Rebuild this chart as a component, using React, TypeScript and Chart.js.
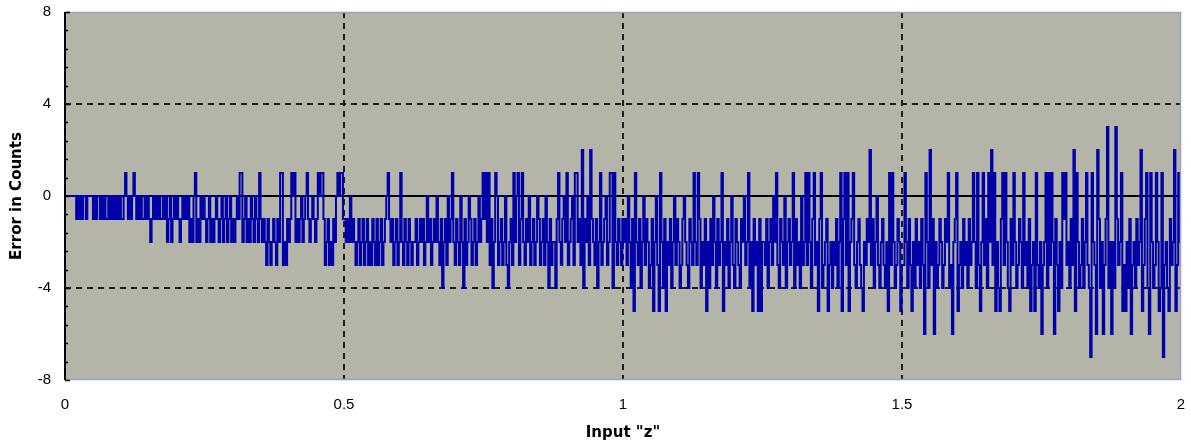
import React, { useEffect, useRef } from 'react';
import { Chart, registerables } from 'chart.js';

Chart.register(...registerables);

// Axis ticks
const xTickValues = [0, 0.5, 1, 1.5, 2];
const yTickValues = [-8, -4, 0, 4, 8];

// Error in counts, four segments of Input "z"
const errZ0to05 = [
  0,0,0,0,0,0,0,0,-1,0,-1,0,-1,0,0,-1,0,0,0,0,-1,0,-1,0,0,-1,0,-1,0,-1,-1,0,-1,0,-1,0,-1,0,-1,0,-1,-1,0,1,0,-1,0,-1,0,1,
  0,-1,0,-1,0,-1,-1,0,-1,0,-1,-2,-1,0,-1,0,-1,0,-1,-1,0,-1,0,-2,-1,0,-2,-1,0,-1,0,-1,-2,-1,0,-1,0,-1,0,-2,-1,-2,0,1,-2,-1,-2,0,-1,0,
  -1,-2,-1,0,-2,-1,-2,-1,0,-1,-2,-1,0,-2,-1,0,-2,-1,0,-2,-1,-2,-1,0,-1,1,1,-2,-1,0,-2,-1,-2,0,-1,-2,0,-1,-2,1,-1,-2,-1,-2,-3,-1,-2,-3,-2,-1,
  -2,-3,-1,-2,1,1,-3,-2,-3,-1,-2,-1,1,0,1,-2,-1,-2,-1,0,-2,-1,0,1,-1,-2,-1,0,-1,-2,-1,1,0,1,1,-1,-3,-2,-1,-3,-2,-3,-1,-2,0,1,0,1,1,-1,
];
const errZ05to1 = [
  -1,-2,-1,-2,0,-2,-1,-2,-3,-2,-1,-3,-2,-1,-3,-2,-1,-3,-2,-3,-1,-2,-3,-1,-3,-2,-1,-3,-2,-1,0,1,-1,-2,-1,-3,-2,-1,-3,-2,1,-2,-3,-1,-2,-3,-1,-2,-3,-2,
  -2,-1,-3,-2,-1,-2,-1,-3,-2,0,-2,-1,-3,-2,-1,-2,0,-2,-3,-1,-4,-2,-1,-3,0,-2,-1,1,-2,-3,-1,-2,-3,0,-2,-4,-1,-3,-2,0,-1,-3,-2,-1,-3,-2,0,-2,-1,1,
  -1,1,-2,1,-3,-1,-4,-2,1,0,-3,-2,-1,-3,-2,0,-3,-4,-2,-1,-3,1,-2,0,1,-3,-1,1,-2,-3,-1,-2,0,-3,-2,-1,-3,-2,0,-1,-3,-2,-1,-3,0,-2,-4,-1,-3,-2,
  -2,-4,-1,1,-2,-3,-1,0,-2,1,-3,-2,-1,0,-3,1,1,-2,-1,-3,2,-4,-1,-2,0,-3,2,-1,-2,-3,-1,-4,-2,1,-3,-2,-1,0,-3,-2,1,1,-4,1,-2,-3,-1,-2,-3,-1,
];
const errZ1to15 = [
  -2,-1,-3,0,-2,-4,-1,-5,1,-2,-3,-1,-4,-2,0,-3,-1,-2,-4,-3,-1,-5,-2,0,-3,-5,1,-2,-4,-1,-5,-2,-3,-1,-4,-2,0,-3,-1,-2,-4,-3,-1,0,-2,-3,-4,-1,-2,-3,
  1,-2,-3,1,-1,-4,-2,-3,-1,-5,-2,-4,-1,-3,0,-2,-4,-1,-3,-2,1,-5,-2,-3,-1,-4,-2,0,-3,-4,-1,-2,-3,-4,-1,-2,0,-3,-2,1,-4,-2,-5,-1,-3,-2,-5,-1,-5,-2,
  -2,-3,-1,-4,-2,-1,-3,0,-2,1,-3,-4,-1,-2,-3,0,-4,-2,-1,-3,-2,1,-4,-1,-3,-2,-4,0,-3,-2,1,-3,1,-2,-4,-1,1,-3,-2,-5,-1,1,-4,-3,-2,-1,-5,-3,-2,-4,
  -2,-3,-1,-4,-2,1,-5,-1,1,-3,1,-5,-2,-1,1,-3,-4,-2,-1,-3,-4,-5,-2,-3,-1,-2,2,-3,-1,-4,-2,0,-3,-4,-2,-1,-3,-4,-2,-5,1,-3,1,-2,-4,-3,-1,-2,-5,-3,
];
const errZ15to2 = [
  -3,1,-2,-4,-1,-3,-5,-2,-4,-1,-3,-2,-4,-1,-3,-6,1,-2,-4,2,-3,-1,-6,-2,-4,-3,-1,-2,-4,-3,-1,-2,1,-4,-3,-6,-2,-1,1,-5,-3,-2,-4,-1,-3,-2,-4,-1,-3,-2,
  1,-2,-4,1,-3,-5,-2,1,-3,-1,-4,1,-2,2,-3,1,-5,-2,-4,-5,-1,1,-3,1,-2,-4,-5,-1,-3,1,-2,-4,-3,-1,-2,-4,1,-3,-2,-4,-1,-5,-3,-2,-5,1,-3,-4,-2,-6,
  -3,-2,1,-4,1,-3,1,-2,-6,-1,-3,-5,-2,-4,1,-1,1,-3,-2,-4,-1,-3,2,-5,1,-2,-4,-3,-1,-4,-2,1,-3,-4,-7,1,-2,-3,-6,2,-1,-4,-2,-6,-3,-1,3,-4,-2,-6,
  -2,-4,3,-1,-3,-2,1,-5,-3,-5,-2,-4,-1,-6,-3,-2,-4,-1,-3,-2,2,-5,-3,-1,1,-4,-6,1,-2,-4,-3,1,-2,-5,-4,1,-7,-3,-2,-4,-5,-1,-3,-2,2,-5,-3,1,-2,-4,
];

const PLOT_BG = '#b4b4a9';
const LINE_BLUE = '#0000a8';
const FRAME = '#a0a0c4';

const decorPlugin = {
  id: 'decor',
  beforeDatasetsDraw(chart: any) {
    const { ctx, chartArea: a, scales } = chart;
    const xs = scales.x;
    const ys = scales.y;
    ctx.save();
    ctx.fillStyle = PLOT_BG;
    ctx.fillRect(a.left, a.top, a.right - a.left, a.bottom - a.top);
    ctx.strokeStyle = '#1e1e1e';
    ctx.lineWidth = 2;
    ctx.setLineDash([6, 5]);
    xTickValues.slice(1, -1).forEach((v) => {
      const px = Math.round(xs.getPixelForValue(v));
      ctx.beginPath();
      ctx.moveTo(px, a.top);
      ctx.lineTo(px, a.bottom);
      ctx.stroke();
    });
    yTickValues.filter((v) => v !== 0 && v !== yTickValues[0] && v !== yTickValues[yTickValues.length - 1]).forEach((v) => {
      const py = Math.round(ys.getPixelForValue(v));
      ctx.beginPath();
      ctx.moveTo(a.left, py);
      ctx.lineTo(a.right, py);
      ctx.stroke();
    });
    ctx.setLineDash([]);
    const zy = Math.round(ys.getPixelForValue(0));
    ctx.strokeStyle = '#000';
    ctx.lineWidth = 2;
    ctx.beginPath();
    ctx.moveTo(a.left, zy);
    ctx.lineTo(a.right, zy);
    ctx.stroke();
    ctx.restore();
  },
  afterDatasetsDraw(chart: any) {
    const { ctx, chartArea: a, scales } = chart;
    const ys = scales.y;
    ctx.save();
    ctx.strokeStyle = FRAME;
    ctx.lineWidth = 1.5;
    ctx.beginPath();
    ctx.moveTo(a.left, a.top + 0.5);
    ctx.lineTo(a.right - 0.5, a.top + 0.5);
    ctx.lineTo(a.right - 0.5, a.bottom - 0.5);
    ctx.lineTo(a.left, a.bottom - 0.5);
    ctx.stroke();
    // left value axis
    ctx.strokeStyle = '#000';
    ctx.lineWidth = 2;
    ctx.beginPath();
    ctx.moveTo(a.left, a.top);
    ctx.lineTo(a.left, a.bottom);
    ctx.stroke();
    // tick marks (major every 4, minor every 0.8), drawn inside
    const lo = yTickValues[0];
    const hi = yTickValues[yTickValues.length - 1];
    const minorStep = (yTickValues[1] - yTickValues[0]) / 5;
    ctx.lineWidth = 1.5;
    for (let k = 0; lo + k * minorStep <= hi + 1e-9; k++) {
      const v = lo + k * minorStep;
      const py = Math.round(ys.getPixelForValue(v)) + 0.5;
      const major = k % 5 === 0;
      ctx.beginPath();
      ctx.moveTo(a.left, py);
      ctx.lineTo(a.left + (major ? 5 : 3), py);
      ctx.stroke();
    }
    ctx.restore();
  },
};

export default function App() {
  const canvasRef = useRef<HTMLCanvasElement | null>(null);

  useEffect(() => {
    const canvas = canvasRef.current;
    if (!canvas) return;
    const values = [...errZ0to05, ...errZ05to1, ...errZ1to15, ...errZ15to2];
    const xMax = xTickValues[xTickValues.length - 1];
    const points = values.map((v, i) => ({ x: (i / (values.length - 1)) * xMax, y: v }));

    const tickFont = { family: '"Liberation Sans", Arial, sans-serif', size: 15 };
    const titleFont = { family: '"DejaVu Sans", sans-serif', size: 15, weight: 'bold' as const };

    const chart = new Chart(canvas, {
      type: 'line',
      data: {
        datasets: [
          {
            data: points,
            borderColor: LINE_BLUE,
            borderWidth: 2,
            stepped: true,
            pointRadius: 0,
            fill: false,
          },
        ],
      },
      options: {
        animation: false,
        responsive: false,
        maintainAspectRatio: false,
        layout: { padding: { left: 0, right: 10, top: 12, bottom: 0 } },
        plugins: { legend: { display: false }, tooltip: { enabled: false } },
        scales: {
          x: {
            type: 'linear',
            min: xTickValues[0],
            max: xMax,
            afterBuildTicks: (s: any) => {
              s.ticks = xTickValues.map((v) => ({ value: v }));
            },
            afterFit: (s: any) => {
              s.height = 66;
              s.paddingLeft = 0;
              s.paddingRight = 0;
            },
            grid: { display: false, drawTicks: false },
            border: { display: false },
            ticks: {
              color: '#000',
              font: tickFont,
              padding: 16,
              maxRotation: 0,
              callback: (v: any) => String(v),
            },
            title: {
              display: true,
              text: 'Input "z"',
              color: '#000',
              font: titleFont,
              padding: { top: 4, bottom: 4 },
            },
          },
          y: {
            type: 'linear',
            min: yTickValues[0],
            max: yTickValues[yTickValues.length - 1],
            afterBuildTicks: (s: any) => {
              s.ticks = yTickValues.map((v) => ({ value: v }));
            },
            afterFit: (s: any) => {
              s.width = 65;
              s.paddingTop = 0;
              s.paddingBottom = 0;
            },
            grid: { display: false, drawTicks: false },
            border: { display: false },
            ticks: {
              color: '#000',
              font: tickFont,
              padding: 14,
              callback: (v: any) => String(v),
            },
            title: {
              display: true,
              text: 'Error in Counts',
              color: '#000',
              font: titleFont,
              padding: { top: 8, bottom: 4 },
            },
          },
        },
      },
      plugins: [decorPlugin],
    });

    return () => chart.destroy();
  }, []);

  return (
    <div style={{ position: 'absolute', left: 0, top: 0, width: 1191, height: 446, background: '#fff' }}>
      <canvas ref={canvasRef} width={1191} height={446} style={{ width: 1191, height: 446, display: 'block' }} />
    </div>
  );
}
